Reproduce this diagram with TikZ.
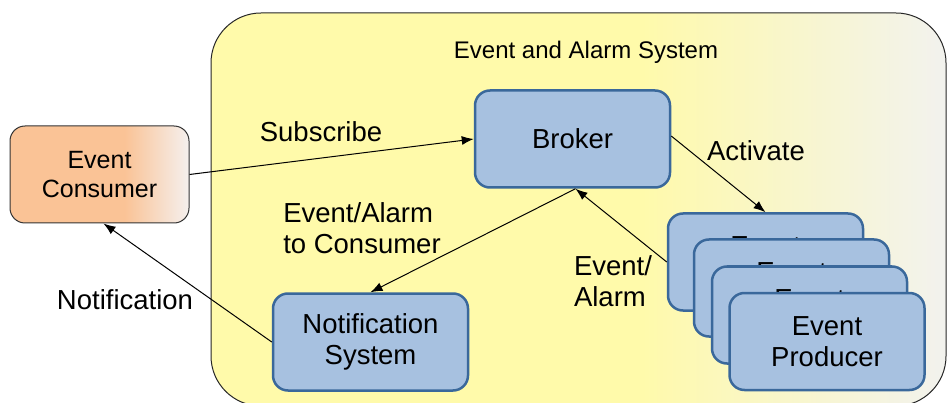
\documentclass[tikz,border=0pt]{standalone}
\usepackage{fontspec}
\setmainfont{Liberation Sans}
\usetikzlibrary{arrows.meta,positioning}
\definecolor{sysY}{RGB}{255,250,170}
\definecolor{sysW}{RGB}{242,242,238}
\definecolor{conO}{RGB}{250,195,150}
\definecolor{conW}{RGB}{245,240,238}
\definecolor{bluF}{RGB}{167,193,224}
\definecolor{bluD}{RGB}{58,104,155}
\pgfdeclarehorizontalshading{sysshade}{100bp}{color(0bp)=(sysY); color(25bp)=(sysY); color(54bp)=(sysY); color(75bp)=(sysW); color(100bp)=(sysW)}
\pgfdeclarehorizontalshading{conshade}{100bp}{color(0bp)=(conO); color(25bp)=(conO); color(57bp)=(conO); color(75bp)=(conW); color(100bp)=(conW)}
\tikzset{
  bluebox/.style={draw=bluD, line width=2.5pt, fill=bluF, rounded corners=15pt,
    minimum width=195pt, minimum height=97pt, align=center, inner sep=0pt,
    font=\fontsize{27.5}{31}\selectfont},
  conbox/.style={draw=black!80, line width=1pt, shading=conshade, rounded corners=15pt,
    minimum width=179pt, minimum height=97pt, align=center, inner sep=0pt,
    font=\fontsize{25}{29}\selectfont},
  lbl/.style={font=\fontsize{27.5}{31}\selectfont, inner sep=0pt},
  arr/.style={draw=black, line width=1pt, -{Latex[length=12pt,width=9pt]}}
}
\begin{document}
\begin{tikzpicture}[x=1pt,y=-1pt]
\useasboundingbox (0,0) rectangle (947,403);
\begin{scope}
\clip (0,0) rectangle (947,403);
\draw[black!85, line width=1pt, shading=sysshade, rounded corners=50pt] (211,13) rectangle (946,406);
\end{scope}
\node[font=\fontsize{24}{28}\selectfont] (title) at (586,52) {Event and Alarm System};
\node[conbox] (cons) at (99.5,174.5) {Event\\Consumer};
\node[bluebox] (broker) at (572.5,139) {Broker};
\node[bluebox] (notif) at (370.5,342) {Notification\\System};
\node[bluebox] (p1) at (765.5,262) {Event\\Producer};
\node[bluebox] (p2) at (791.5,288) {Event\\Producer};
\node[bluebox] (p3) at (809.5,315) {Event\\Producer};
\node[bluebox] (p4) at (827,341.5) {Event\\Producer};
\draw[arr] (cons.east) -- (broker.west);
\draw[arr] ([yshift=3pt]broker.east) -- (p1.north);
\draw[arr] (p1.west) -- ([xshift=3pt]broker.south);
\draw[arr] ([xshift=3pt]broker.south) -- (notif.north);
\draw[arr] (notif.west) -- ([xshift=4pt]cons.south);
\node[lbl] (lsub) at (321,132) {Subscribe};
\node[lbl] (lact) at (756,151) {Activate};
\node[lbl, align=left] (lev) at (613,281) {Event/\\Alarm};
\node[lbl, align=left] (letc) at (362,228) {Event/Alarm\\to Consumer};
\node[lbl] (lnot) at (125,300) {Notification};
\end{tikzpicture}
\end{document}
